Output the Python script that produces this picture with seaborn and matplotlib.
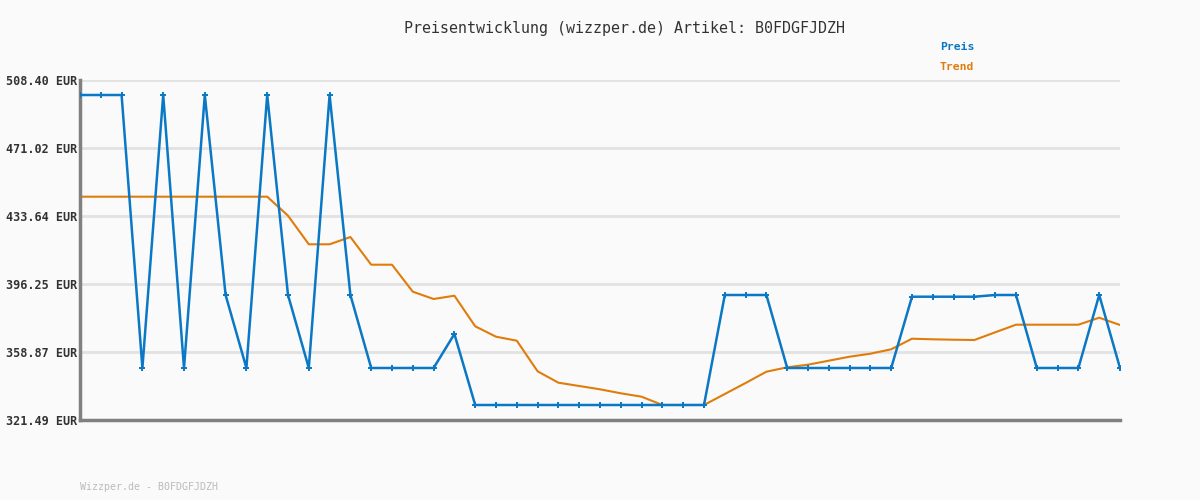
import matplotlib
matplotlib.use("Agg")
import matplotlib.pyplot as plt
import seaborn as sns
import pandas as pd
import numpy as np

title = "Preisentwicklung (wizzper.de) Artikel: B0FDGFJDZH"
footer = "Wizzper.de - B0FDGFJDZH"
tick_values = [321.49, 358.87, 396.25, 433.64, 471.02, 508.40]
tick_labels = ["321.49 EUR", "358.87 EUR", "396.25 EUR", "433.64 EUR", "471.02 EUR", "508.40 EUR"]

preis = [500.15, 500.15, 500.15, 350.08, 500.15, 350.08, 500.15, 390.21, 350.08, 500.15,
         390.21, 350.08, 500.15, 390.21, 350.08, 350.08, 350.08, 350.08, 368.77, 329.74,
         329.74, 329.74, 329.74, 329.74, 329.74, 329.74, 329.74, 329.74, 329.74, 329.74,
         329.74, 390.21, 390.21, 390.21, 350.08, 350.08, 350.08, 350.08, 350.08, 350.08,
         389.27, 389.27, 389.27, 389.27, 390.21, 390.21, 350.08, 350.08, 350.08, 390.21,
         350.08]
trend = [444.25, 444.25, 444.25, 444.25, 444.25, 444.25, 444.25, 444.25, 444.25, 444.25,
         433.80, 418.08, 418.08, 422.09, 406.86, 406.86, 392.02, 388.01, 389.82, 373.00,
         367.28, 365.08, 348.26, 342.00, 340.18, 338.37, 336.17, 334.30, 329.74, 329.74,
         329.74, 335.78, 341.83, 348.04, 350.46, 351.89, 354.09, 356.29, 357.94, 360.36,
         366.18, 365.85, 365.63, 365.47, 369.70, 373.88, 373.88, 373.88, 373.88, 377.73,
         373.72]

idx = list(range(len(preis)))
df = pd.DataFrame({"i": idx, "Preis": preis, "Trend": trend})

sns.set_theme(style="white")
plt.rcParams['font.family'] = ['DejaVu Sans Mono', 'DejaVu Sans']

BG = "#fafafa"
BLUE = "#0a78c4"
ORANGE = "#e07c0c"

fig = plt.figure(figsize=(12, 5), dpi=100, facecolor=BG)
ax = fig.add_axes([80/1200, 1-420/500, 1040/1200, 340/500])
ax.set_facecolor(BG)

for v in tick_values:
    ax.axhline(v, color="#e2e2e2", lw=2, zorder=0)

sns.lineplot(data=df, x="i", y="Trend", ax=ax, color=ORANGE, lw=1.5, zorder=2)
sns.lineplot(data=df, x="i", y="Preis", ax=ax, color=BLUE, lw=1.8, zorder=3,
             marker="+", markersize=4, markeredgewidth=1.4, markeredgecolor=BLUE)

ax.set_xlim(0, len(preis) - 1)
ax.set_ylim(tick_values[0], tick_values[-1])
ax.set_yticks(tick_values)
ax.set_yticklabels(tick_labels, fontsize=8.5, fontweight="bold", color="#333333")
ax.set_xticks([])
ax.set_xlabel("")
ax.set_ylabel("")
ax.tick_params(axis="y", length=0, pad=2)
for s in ["top", "right"]:
    ax.spines[s].set_visible(False)
for s in ["left", "bottom"]:
    ax.spines[s].set_color("#808080")
    ax.spines[s].set_linewidth(2.5)

fig.text(624/1200, 1-28/500, title, ha="center", va="center", fontsize=10.8, color="#333333")
fig.text(940/1200, 1-47/500, "Preis", ha="left", va="center", fontsize=8.2, fontweight="bold", color=BLUE)
fig.text(940/1200, 1-67/500, "Trend", ha="left", va="center", fontsize=8.2, fontweight="bold", color=ORANGE)
fig.text(80/1200, 1-487/500, footer, ha="left", va="center", fontsize=7.2, color="#bbbbbb")

fig.savefig("out.png", dpi=100, facecolor=BG)
